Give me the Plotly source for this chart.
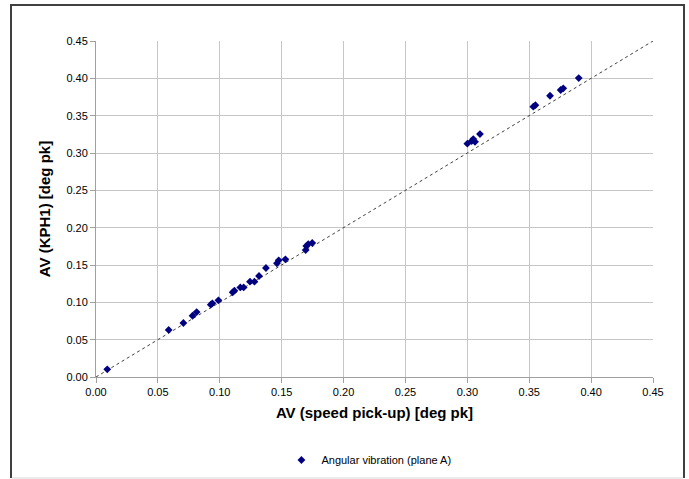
import plotly.graph_objects as go

speed_pickup = [0.0091, 0.0587, 0.0706, 0.0780, 0.0813, 0.0927, 0.0940, 0.0989,
                0.1104, 0.1118, 0.1166, 0.1193, 0.1244, 0.1280, 0.1317, 0.1373,
                0.1462, 0.1476, 0.1530, 0.1694, 0.1699, 0.1715, 0.1747,
                0.3000, 0.3035, 0.3048, 0.3062, 0.3102, 0.3533, 0.3550, 0.3668,
                0.3754, 0.3775, 0.3900]
kph1 = [0.0103, 0.0630, 0.0723, 0.0820, 0.0870, 0.0969, 0.0987, 0.1027,
        0.1134, 0.1156, 0.1200, 0.1200, 0.1277, 0.1277, 0.1353, 0.1460,
        0.1522, 0.1562, 0.1576, 0.1700, 0.1754, 0.1780, 0.1795,
        0.3125, 0.3160, 0.3187, 0.3150, 0.3254, 0.3620, 0.3640, 0.3767,
        0.3844, 0.3866, 0.4004]
ref_line = [0.0, 0.45]
tick_vals = [0.00, 0.05, 0.10, 0.15, 0.20, 0.25, 0.30, 0.35, 0.40, 0.45]
tick_text = ["%.2f" % v for v in tick_vals]

fig = go.Figure()
fig.add_trace(go.Scatter(x=ref_line, y=ref_line, mode="lines",
                         line=dict(color="#404040", width=1, dash="dot"),
                         showlegend=False, hoverinfo="skip"))
fig.add_trace(go.Scatter(x=speed_pickup, y=kph1, mode="markers",
                         name="Angular vibration (plane A)",
                         marker=dict(symbol="diamond", size=6, color="#000080")))

axis_common = dict(range=[0, 0.45], tickvals=tick_vals, ticktext=tick_text,
                   showgrid=True, gridcolor="#c6c6c6", gridwidth=1,
                   showline=True, linecolor="#a0a0a0", linewidth=1,
                   ticks="outside", ticklen=5, tickcolor="#a0a0a0",
                   zeroline=False, mirror=False, automargin=False,
                   tickfont=dict(family="Liberation Sans, Arial", size=11, color="#000000"),
                   title_font=dict(family="Liberation Sans, Arial", size=15, color="#000000"))

fig.update_xaxes(**axis_common, title_text="<b>AV (speed pick-up) [deg pk]</b>", title_standoff=10)
fig.update_yaxes(**axis_common, title_text="<b>AV (KPH1) [deg pk]</b>", title_standoff=12)

W, H = 689, 479
L, R, T, B = 96, 36, 41, 102
pw, ph = W - L - R, H - T - B

def px(x):
    return (x - L) / pw

def py(y):
    return (H - B - y) / ph

shapes = [
    dict(type="line", xref="paper", yref="paper", x0=px(11), x1=px(11), y0=py(5), y1=py(478),
         line=dict(color="#404040", width=2)),
    dict(type="line", xref="paper", yref="paper", x0=px(684), x1=px(684), y0=py(5), y1=py(478),
         line=dict(color="#404040", width=2)),
    dict(type="line", xref="paper", yref="paper", x0=px(10), x1=px(685), y0=py(5), y1=py(5),
         line=dict(color="#404040", width=2)),
    dict(type="line", xref="paper", yref="paper", x0=px(12), x1=px(683), y0=py(478), y1=py(478),
         line=dict(color="#d8d8d8", width=1)),
]

fig.update_layout(
    width=W, height=H,
    margin=dict(l=L, r=R, t=T, b=B, autoexpand=False),
    paper_bgcolor="white", plot_bgcolor="white",
    shapes=shapes,
    showlegend=True,
    legend=dict(orientation="h", x=0.49, xanchor="center", y=py(460), yanchor="middle",
                font=dict(family="Liberation Sans, Arial", size=11, color="#000000"),
                itemwidth=30, bgcolor="rgba(0,0,0,0)"),
    font=dict(family="Liberation Sans, Arial"),
)

fig.write_html("out.html")
